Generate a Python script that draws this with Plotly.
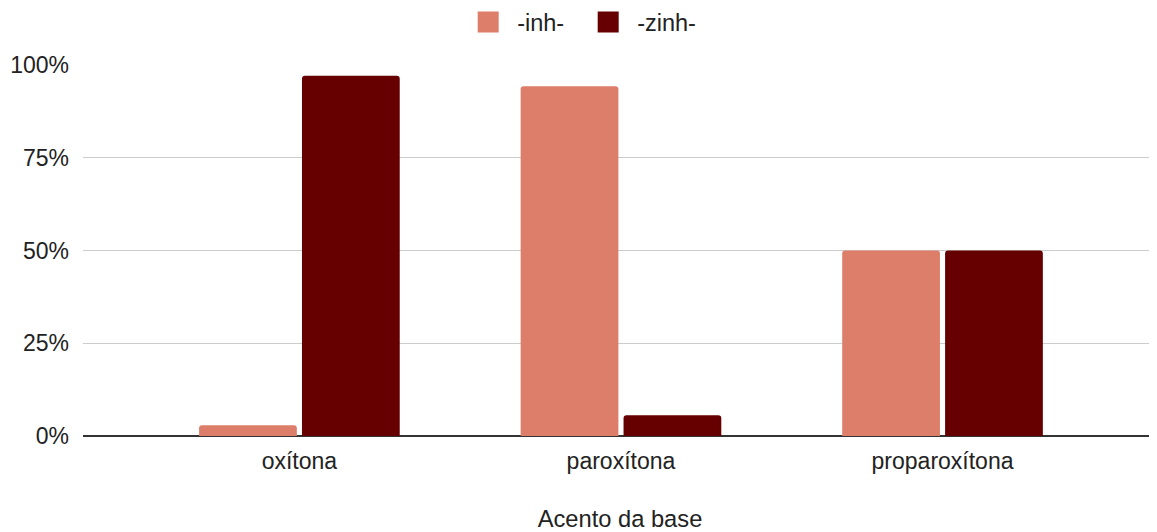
import plotly.graph_objects as go

categories = ["oxítona", "paroxítona", "proparoxítona"]
inh_values = [0.029, 0.943, 0.50]
zinh_values = [0.971, 0.056, 0.50]
series_names = ["-inh-", "-zinh-"]
series_colors = ["#DD7E6B", "#660000"]
y_tickvals = [0, 0.25, 0.5, 0.75, 1.0]
y_ticktext = ["0%", "25%", "50%", "75%", "100%"]

font = "Liberation Sans, Arial, sans-serif"
txt = "#222222"

fig = go.Figure()
for name, vals, col in zip(series_names, [inh_values, zinh_values], series_colors):
    fig.add_trace(go.Bar(x=categories, y=vals, name=name, showlegend=False,
                         marker=dict(color=col, cornerradius=3, line=dict(width=0))))
# legend entries with larger square swatches
for name, col in zip(series_names, series_colors):
    fig.add_trace(go.Scatter(x=[None], y=[None], mode="markers", name=name,
                             marker=dict(symbol="square", size=16, color=col,
                                         line=dict(color=col, width=5))))

# page body has an 8px default margin, so the figure is 8px smaller
fig.update_layout(
    width=1149, height=524,
    margin=dict(l=75, r=0, t=57, b=96, autoexpand=False),
    paper_bgcolor="white", plot_bgcolor="white",
    barmode="group", bargap=0.36, bargroupgap=0.05,
    font=dict(family=font, size=23, color=txt),
    showlegend=True,
    legend=dict(orientation="h", x=0.462, xanchor="center", y=0.973, yanchor="middle",
                yref="container", font=dict(size=23.5, color=txt),
                itemwidth=48, entrywidth=57, entrywidthmode="pixels",
                traceorder="normal", itemsizing="trace"),
    xaxis=dict(range=[-0.673, 2.667], showgrid=False, showline=False, ticks="",
               tickfont=dict(size=23, color=txt), ticklabelstandoff=9,
               title=dict(text="Acento da base", font=dict(size=23.7, color=txt), standoff=37)),
    yaxis=dict(range=[0, 1.0], tickvals=y_tickvals, ticktext=y_ticktext,
               showgrid=True, gridcolor="#CCCCCC", gridwidth=1,
               zeroline=True, zerolinecolor="#333333", zerolinewidth=2,
               tickfont=dict(size=23, color=txt), ticks="", ticklabelstandoff=13),
)

fig.write_html("out.html")
